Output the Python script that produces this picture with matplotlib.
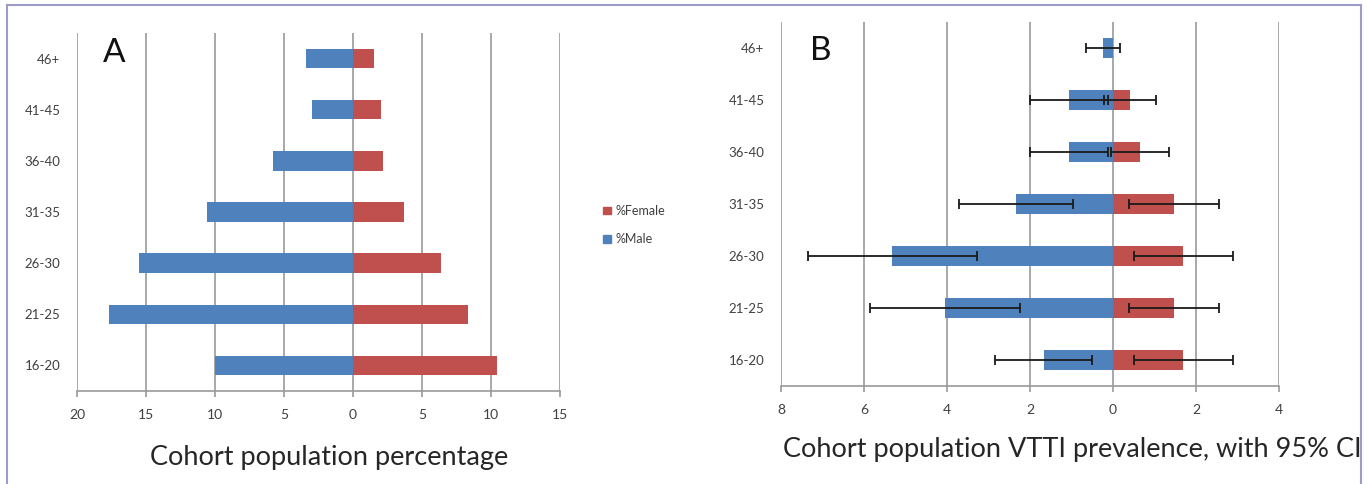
import numpy as np
import matplotlib.pyplot as plt
from matplotlib.patches import Rectangle
from matplotlib.lines import Line2D

plt.rcParams['font.family'] = ['Lato', 'DejaVu Sans']

# age groups, bottom to top
age_groups = ['16-20', '21-25', '26-30', '31-35', '36-40', '41-45', '46+']

# panel A: cohort population percentage
pct_male = [10.0, 17.7, 15.5, 10.6, 5.8, 3.0, 3.4]
pct_female = [10.4, 8.3, 6.4, 3.7, 2.2, 2.0, 1.5]

# panel B: VTTI prevalence with 95% CI half-widths
prev_male = [1.67, 4.05, 5.32, 2.33, 1.06, 1.06, 0.23]
prev_male_ci = [1.17, 1.80, 2.04, 1.37, 0.93, 0.93, 0.41]
prev_female = [1.69, 1.47, 1.69, 1.47, 0.65, 0.41, 0.0]
prev_female_ci = [1.19, 1.09, 1.19, 1.09, 0.71, 0.62, 0.0]

a_ticks = [-20, -15, -10, -5, 0, 5, 10, 15]
a_tick_labels = ['20', '15', '10', '5', '0', '5', '10', '15']
b_ticks = [-8, -6, -4, -2, 0, 2, 4]
b_tick_labels = ['8', '6', '4', '2', '0', '2', '4']

blue = '#4f81bd'
red = '#c0504d'
grid_col = '#9a9a9a'
text_col = '#404040'

fig = plt.figure(figsize=(13.67, 4.84), dpi=100)
W, H = 1367, 484

def px_axes(l, r, t, b):
    return fig.add_axes([l / W, 1 - b / H, (r - l) / W, (b - t) / H])

def style(ax, ticks, labels):
    y = np.arange(len(age_groups))
    ax.set_yticks(y)
    ax.set_yticklabels(age_groups, fontsize=9.5, color=text_col)
    ax.set_ylim(-0.5, len(age_groups) - 0.5)
    ax.set_xticks(ticks)
    ax.set_xticklabels(labels, fontsize=10, color=text_col)
    ax.set_xlim(ticks[0], ticks[-1])
    ax.xaxis.grid(True, color=grid_col, lw=1.2)
    ax.set_axisbelow(True)
    for s in ['top', 'right', 'left']:
        ax.spines[s].set_visible(False)
    ax.spines['bottom'].set_color(grid_col)
    ax.spines['bottom'].set_linewidth(1.2)
    ax.tick_params(axis='y', length=0, pad=12)
    ax.tick_params(axis='x', length=4, color=grid_col, width=1.2, pad=9)

y = np.arange(len(age_groups))
bh = 0.38

# ---- panel A
ax1 = px_axes(77, 560, 33, 391)
ax1.barh(y, -np.array(pct_male), height=bh, color=blue)
ax1.barh(y, pct_female, height=bh, color=red)
style(ax1, a_ticks, a_tick_labels)
ax1.text(-17.3, 6.1, 'A', fontsize=24, ha='center', va='center', color='#111111')
fig.text(329 / W, 1 - 457 / H, 'Cohort population percentage', fontsize=19.5,
         ha='center', va='center', color='#262626')

handles = [Rectangle((0, 0), 1, 1, color=red), Rectangle((0, 0), 1, 1, color=blue)]
fig.legend(handles, ['%Female', '%Male'], loc='center left',
           bbox_to_anchor=(592 / W, 1 - 225 / H), frameon=False, fontsize=9,
           handlelength=0.6, handleheight=0.6, handletextpad=0.4, labelspacing=1.3,
           labelcolor=text_col)

# ---- panel B
ax2 = px_axes(781, 1279, 22, 386)
ek = dict(ecolor='#1a1a1a', elinewidth=1.3, capsize=3.5, capthick=1.3)
ax2.barh(y, -np.array(prev_male), height=bh, color=blue, xerr=prev_male_ci, error_kw=ek)
fy = [i for i in y if prev_female[i] > 0]
ax2.barh(fy, [prev_female[i] for i in fy], height=bh, color=red,
         xerr=[prev_female_ci[i] for i in fy], error_kw=ek)
style(ax2, b_ticks, b_tick_labels)
ax2.text(-7.05, 5.95, 'B', fontsize=24, ha='center', va='center', color='#111111')
fig.text(783 / W, 1 - 450 / H, 'Cohort population VTTI prevalence, with 95% CI',
         fontsize=19.5, ha='left', va='center', color='#262626')

# frame around the figure, with text clipped at the right edge
fig.add_artist(Rectangle((1361 / W, 0), 6 / W, 1, transform=fig.transFigure,
                         color='white', zorder=20))
bc = '#9c9cc8'
fig.add_artist(Line2D([7 / W, 7 / W], [0, 1 - 5 / H], transform=fig.transFigure, color=bc, lw=1.5, zorder=21))
fig.add_artist(Line2D([7 / W, 1361 / W], [1 - 5 / H, 1 - 5 / H], transform=fig.transFigure, color=bc, lw=1.5, zorder=21))
fig.add_artist(Line2D([1361 / W, 1361 / W], [0, 1 - 5 / H], transform=fig.transFigure, color=bc, lw=1.5, zorder=21))

fig.savefig('out.png', dpi=100)
